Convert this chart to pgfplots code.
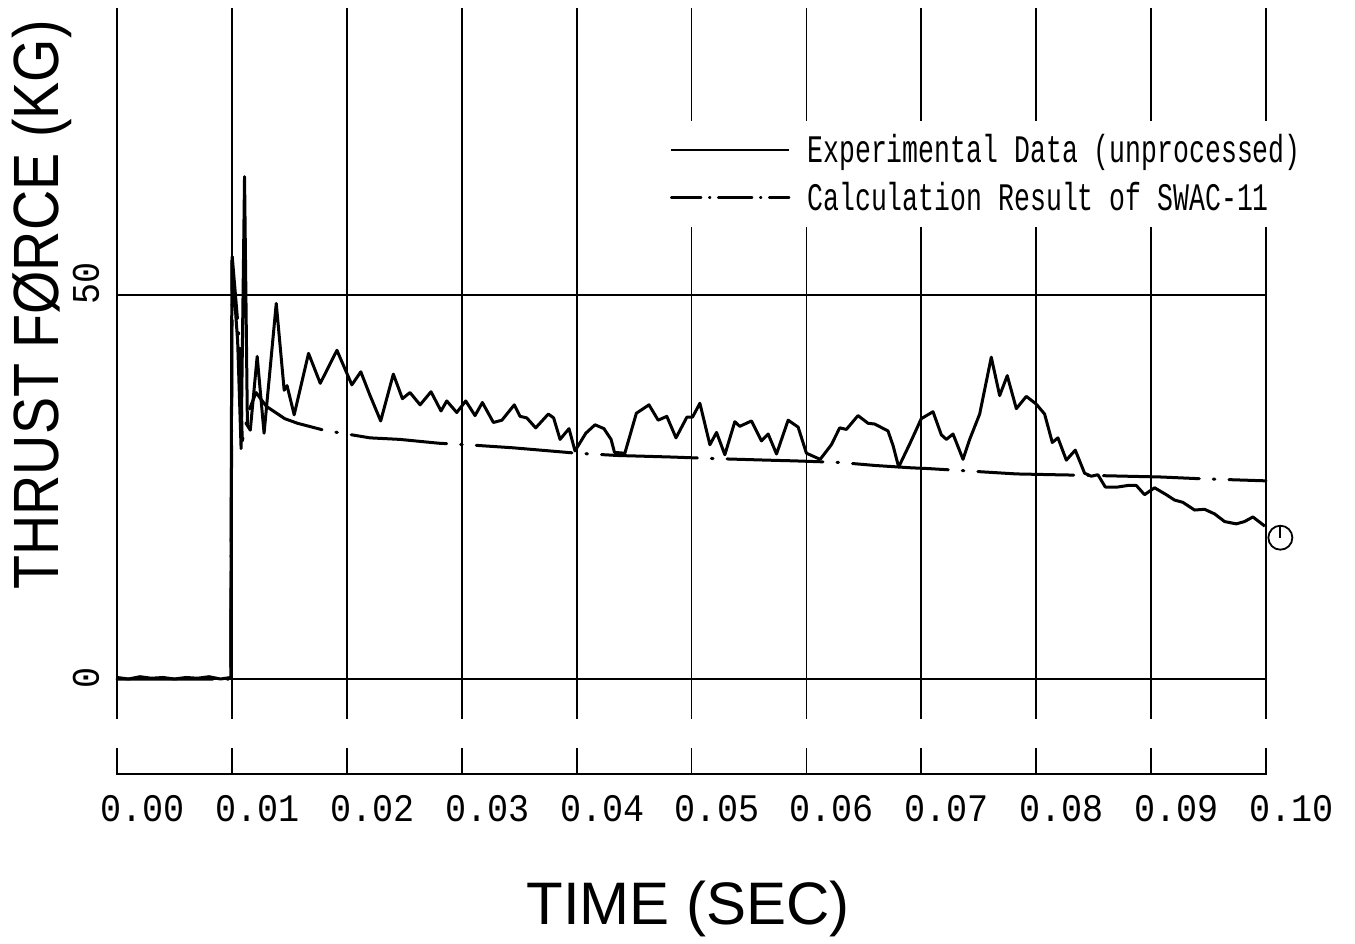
\documentclass[border=0pt]{standalone}
\usepackage{pgfplots}
\pgfplotsset{compat=1.18}
\usepackage{fontspec}
\setmainfont{Liberation Sans}
\newfontfamily\legfont[FakeStretch=0.68]{Liberation Mono}
\newfontfamily\tickfont[FakeStretch=0.9]{Liberation Mono}
\newfontfamily\labfont[FakeStretch=0.87]{Liberation Sans}

\pgfplotstableread{
x y
0 0.2
0.0010 0.0
0.0020 0.3
0.0030 0.1
0.0040 0.2
0.0050 0.0
0.0060 0.2
0.0070 0.1
0.0080 0.3
0.0090 0.0
0.0099 0.2
0.0100 54.5
0.0105 44
0.0108 30
0.0111 65.4
0.01135 33
0.0116 32.4
0.0122 42
0.0128 32
0.01386 48.9
0.01455 37.6
0.0148 38.2
0.01542 34.4
0.01667 42.4
0.01769 38.5
0.01914 42.8
0.02044 38.3
0.02122 40.0
0.0220 37.0
0.02295 33.6
0.02405 39.7
0.02484 36.5
0.0255 37.3
0.02638 35.7
0.02733 37.4
0.0282 34.9
0.0287 36.2
0.02957 34.7
0.03035 36.2
0.03116 34.3
0.0318 36.0
0.03276 33.4
0.0335 33.7
0.03458 35.7
0.03508 34.2
0.03566 34.0
0.03644 32.7
0.03754 34.5
0.0380 34.0
0.03856 31.2
0.03934 32.6
0.03986 29.7
0.0408 32.0
0.0416 33.1
0.04238 32.6
0.0430 31.2
0.0433 29.5
0.0442 29.4
0.0452 34.6
0.0463 35.7
0.0471 33.7
0.04785 34.2
0.04865 31.4
0.0496 34.1
0.05009 34.1
0.05073 35.9
0.0516 30.5
0.05218 32.1
0.0529 29.2
0.05377 33.5
0.0542 32.9
0.05522 33.6
0.05609 31.0
0.05667 31.9
0.0574 29.3
0.05841 33.7
0.05928 32.8
0.0600 29.4
0.0612 28.6
0.06217 30.5
0.0629 32.7
0.06348 32.5
0.06449 34.3
0.06536 33.3
0.06594 33.2
0.0671 32.3
0.06754 30.4
0.06803 27.6
0.06899 30.6
0.0700 33.9
0.07102 34.8
0.07174 31.8
0.07218 31.2
0.07276 31.9
0.07363 28.6
0.07421 31.2
0.07508 34.5
0.07609 41.9
0.07682 36.9
0.07748 39.5
0.07827 35.2
0.07914 36.8
0.0800 35.8
0.08073 34.5
0.0814 30.8
0.08189 31.4
0.08262 28.5
0.0834 29.8
0.08421 26.8
0.08479 26.4
0.08537 26.6
0.08601 25.0
0.08711 25.0
0.08798 25.2
0.08871 25.2
0.08943 24.0
0.0903 24.9
0.09132 24.0
0.09204 23.3
0.09277 23.0
0.09378 22.0
0.09465 22.1
0.09552 21.5
0.0964 20.5
0.09741 20.2
0.09813 20.5
0.09886 21.1
0.0999 19.9
}\expdata

\pgfplotstableread{
x y
0 0
0.0099 0
0.01003 55
0.0107 43
0.0109 31
0.0115 35
0.0121 37.3
0.0130 35.5
0.0139 34.6
0.0146 33.9
0.0157 33.3
0.0180 32.4
0.0200 31.9
0.0220 31.4
0.0246 31.2
0.0280 30.7
0.0315 30.4
0.0345 30.1
0.0400 29.4
0.0436 29.1
0.0460 29.0
0.0483 28.9
0.0520 28.7
0.0565 28.5
0.0590 28.4
0.0629 28.2
0.0660 27.8
0.0691 27.5
0.0706 27.4
0.0750 27.0
0.0783 26.7
0.0815 26.6
0.0850 26.5
0.0909 26.3
0.0939 26.1
0.1000 25.8
}\calcdata

\begin{document}
\begin{tikzpicture}
\begin{axis}[
  scale only axis,
  width=574.5pt, height=355.6pt,
  xmin=0, xmax=0.1, ymin=-5.2, ymax=87.4,
  clip=false,
  axis line style={draw=none},
  major tick length=0pt,
  scaled x ticks=false,
  xtick={0,0.01,0.02,0.03,0.04,0.05,0.06,0.07,0.08,0.09,0.1},
  xticklabels={0.00,0.01,0.02,0.03,0.04,0.05,0.06,0.07,0.08,0.09,0.10},
  ytick={0,50},
  yticklabels={0,50},
  xmajorgrids, ymajorgrids,
  grid style={black, line width=0.9pt},
  xticklabel style={font=\tickfont\fontsize{19.5}{22}\selectfont, anchor=north west, inner sep=0pt, xshift=-8.5pt, yshift=-38pt},
  yticklabel style={font=\tickfont\fontsize{19.5}{22}\selectfont, anchor=west, inner sep=0pt, xshift=-15.5pt, yshift=-5pt, rotate=90},
  legend style={at={(0.474,0.842)}, anchor=north west, draw=none, fill=white,
    font=\legfont\fontsize{19.5}{22}\selectfont, inner xsep=4pt, inner ysep=5pt,
    row sep=4pt, nodes={inner sep=2pt},
    /tikz/every odd column/.append style={column sep=6.5pt}},
  legend cell align=left,
]
\path (axis cs:-0.010183,-33.46) rectangle (axis cs:0.107746,88.41);
% bottom scale
\addplot[black, line width=0.9pt, unbounded coords=jump, forget plot] coordinates {
 (0,-9.0) (0,-12.4) (0.1,-12.4) (0.1,-9.0)
 (0.01,nan) (0.01,-9.0) (0.01,-12.4)
 (0.02,nan) (0.02,-9.0) (0.02,-12.4)
 (0.03,nan) (0.03,-9.0) (0.03,-12.4)
 (0.04,nan) (0.04,-9.0) (0.04,-12.4)
 (0.05,nan) (0.05,-9.0) (0.05,-12.4)
 (0.06,nan) (0.06,-9.0) (0.06,-12.4)
 (0.07,nan) (0.07,-9.0) (0.07,-12.4)
 (0.08,nan) (0.08,-9.0) (0.08,-12.4)
 (0.09,nan) (0.09,-9.0) (0.09,-12.4)
};
\addplot[black, line width=1.5pt, line join=round,
  legend image code/.code={\draw[black, line width=1.2pt] (0pt,0pt) -- (59pt,0pt);}]
  table[x=x,y=y] {\expdata};
\addlegendentry{Experimental Data (unprocessed)}
\addplot[black, line width=1.5pt, line join=round, line cap=round, dash pattern=on 48pt off 7pt on 0.8pt off 7pt,
  legend image code/.code={\draw[black, line width=1.2pt, line cap=round, dash pattern=on 15pt off 4pt on 0.5pt off 4pt on 17pt off 4pt on 0.5pt off 4pt on 14pt] (0pt,0pt) -- (59pt,0pt);}]
  table[x=x,y=y] {\calcdata};
\addlegendentry{Calculation Result of SWAC-11}
\node[circle, draw, line width=0.9pt, minimum size=12pt, inner sep=0pt,
  path picture={\draw[line width=0.9pt] (path picture bounding box.north) -- (path picture bounding box.center);}]
  at (axis cs:0.10125,18.4) {};
\node[rotate=90, anchor=base, font=\labfont\fontsize{32}{36}\selectfont] at (axis cs:-0.005135,48.7) {THRUST FØRCE (KG)};
\node[anchor=base, font=\fontsize{30}{34}\selectfont] at (axis cs:0.0497,-31.9) {TIME (SEC)};
\end{axis}
\end{tikzpicture}
\end{document}
